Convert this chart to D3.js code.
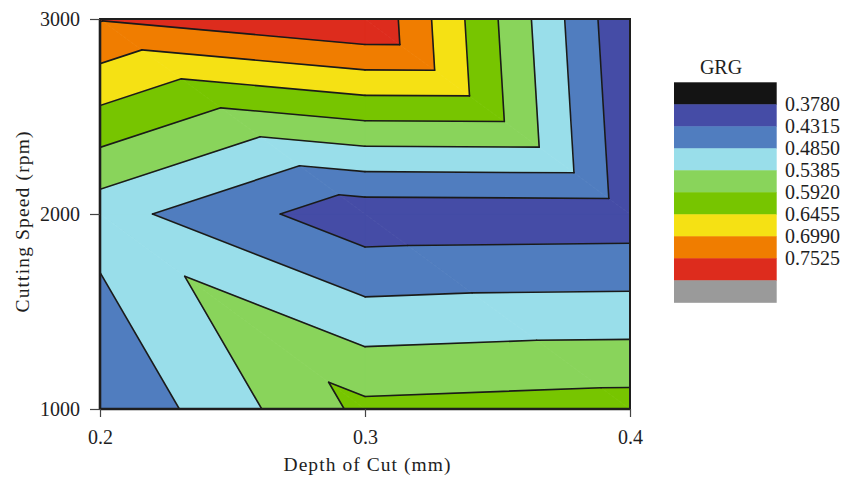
<!DOCTYPE html>
<html>
<head>
<meta charset="utf-8">
<script src="https://cdn.jsdelivr.net/npm/d3@7"></script>
<style>
  body { margin: 0; background: #fff; }
  text { font-family: "Liberation Serif", "Times New Roman", serif; fill: #1e1e1e; }
</style>
</head>
<body>
<svg id="chart" width="845" height="480"></svg>
<script>
// Measured grey relational grade (GRG) at each depth of cut / cutting speed
const depthOfCut = [0.2, 0.3, 0.4];
const cuttingSpeed = [1000, 2000, 3000];
const grgAt1000 = [0.4335, 0.6055, 0.616];
const grgAt2000 = [0.507, 0.396, 0.399];
const grgAt3000 = [0.756, 0.806, 0.380];

// Contour levels and the colour of each band between them (low to high)
const levels = [0.3780, 0.4315, 0.4850, 0.5385, 0.5920, 0.6455, 0.6990, 0.7525];
const levelLabels = ["0.3780", "0.4315", "0.4850", "0.5385", "0.5920", "0.6455", "0.6990", "0.7525"];
const bandColors = ["#141414", "#454ca6", "#507dbf", "#99deea", "#89d45b", "#77c500", "#f5e114", "#f07d00", "#dd2c1d"];
const extraColor = "#9a9a9a";

const xTicks = [0.2, 0.3, 0.4];
const yTicks = [1000, 2000, 3000];

const plot = { left: 100, right: 630, top: 19, bottom: 409 };
const svg = d3.select("#chart");

const x = d3.scaleLinear().domain([0.2, 0.4]).range([plot.left, plot.right]);
const y = d3.scaleLinear().domain([1000, 3000]).range([plot.bottom, plot.top]);

const grid = [grgAt1000, grgAt2000, grgAt3000];
const node = (i, j) => ({ x: depthOfCut[i], y: cuttingSpeed[j], v: grid[j][i] });

// Split each grid cell into two triangles along the top-left / bottom-right diagonal
const triangles = [];
for (let j = 0; j < cuttingSpeed.length - 1; j++) {
  for (let i = 0; i < depthOfCut.length - 1; i++) {
    const bl = node(i, j), br = node(i + 1, j), tl = node(i, j + 1), tr = node(i + 1, j + 1);
    triangles.push([tl, tr, br], [tl, bl, br]);
  }
}

const lerp = (a, b, level) => {
  const t = (level - a.v) / (b.v - a.v);
  return { x: a.x + t * (b.x - a.x), y: a.y + t * (b.y - a.y), v: level };
};

// Keep the part of a polygon on one side of a level (values vary linearly)
function clip(poly, level, above) {
  const inside = p => above ? p.v >= level : p.v <= level;
  const out = [];
  for (let k = 0; k < poly.length; k++) {
    const a = poly[k], b = poly[(k + 1) % poly.length];
    const ia = inside(a), ib = inside(b);
    if (ia) out.push(a);
    if (ia !== ib) out.push(lerp(a, b, level));
  }
  return out;
}

const defs = svg.append("defs");
defs.append("clipPath").attr("id", "plot-clip")
  .append("rect")
  .attr("x", plot.left).attr("y", plot.top)
  .attr("width", plot.right - plot.left).attr("height", plot.bottom - plot.top);

const line = d3.line().x(d => x(d.x)).y(d => y(d.y));
const area = svg.append("g").attr("clip-path", "url(#plot-clip)");

// Filled bands
const bands = [];
triangles.forEach(tri => {
  bandColors.forEach((color, b) => {
    let poly = tri.slice();
    if (b > 0) poly = clip(poly, levels[b - 1], true);
    if (poly.length && b < levels.length) poly = clip(poly, levels[b], false);
    if (poly.length >= 3) bands.push({ poly, color });
  });
});
area.selectAll("path.band")
  .data(bands)
  .join("path")
  .attr("class", "band")
  .attr("d", d => line(d.poly) + "Z")
  .attr("fill", d => d.color)
  .attr("stroke", d => d.color)
  .attr("stroke-width", 0.8)
  .attr("stroke-linejoin", "round");

// Contour lines at each level
const segments = [];
triangles.forEach(tri => {
  levels.forEach(level => {
    const pts = [];
    for (let k = 0; k < 3; k++) {
      const a = tri[k], b = tri[(k + 1) % 3];
      if ((a.v - level) * (b.v - level) < 0) pts.push(lerp(a, b, level));
    }
    if (pts.length === 2) segments.push(pts);
  });
});
area.selectAll("path.contour")
  .data(segments)
  .join("path")
  .attr("class", "contour")
  .attr("d", line)
  .attr("fill", "none")
  .attr("stroke", "#1a1a1a")
  .attr("stroke-width", 1.6)
  .attr("stroke-linecap", "round");

// Frame
svg.append("rect")
  .attr("x", plot.left).attr("y", plot.top)
  .attr("width", plot.right - plot.left).attr("height", plot.bottom - plot.top)
  .attr("fill", "none").attr("stroke", "#1e1e1e").attr("stroke-width", 2);

// Axes
const xAxis = svg.append("g")
  .attr("transform", `translate(0,${plot.bottom})`)
  .call(d3.axisBottom(x).tickValues(xTicks).tickFormat(d3.format(".1f")).tickSize(8).tickPadding(13));
const yAxis = svg.append("g")
  .attr("transform", `translate(${plot.left},0)`)
  .call(d3.axisLeft(y).tickValues(yTicks).tickFormat(d3.format("d")).tickSize(10).tickPadding(10));

[xAxis, yAxis].forEach(g => {
  g.select(".domain").attr("stroke", "#1e1e1e").attr("stroke-width", 2.6);
  g.selectAll(".tick line").attr("stroke", "#444").attr("stroke-width", 1.2);
  g.selectAll(".tick text").attr("font-size", 20).attr("fill", "#1e1e1e")
    .style("font-family", '"Liberation Serif", "Times New Roman", serif');
});
xAxis.select(".domain").attr("d", `M${plot.left},0H${plot.right}`);
yAxis.select(".domain").attr("d", `M0,${plot.top}V${plot.bottom}`);

// Axis titles
svg.append("text")
  .attr("x", 367).attr("y", 471)
  .attr("text-anchor", "middle")
  .attr("font-size", 19.5)
  .attr("textLength", 167).attr("lengthAdjust", "spacing")
  .text("Depth of Cut (mm)");

svg.append("text")
  .attr("transform", "translate(29,222) rotate(-90)")
  .attr("text-anchor", "middle")
  .attr("font-size", 19.5)
  .attr("textLength", 181).attr("lengthAdjust", "spacing")
  .text("Cutting Speed (rpm)");

// Legend
const legend = svg.append("g");
const boxH = 22, boxTop = 82.3, boxX = 674, boxW = 102.7;
const legendColors = bandColors.concat([extraColor]);

legend.append("text")
  .attr("x", 721).attr("y", 74)
  .attr("text-anchor", "middle")
  .attr("font-size", 20)
  .text("GRG");

legend.selectAll("rect")
  .data(legendColors)
  .join("rect")
  .attr("x", boxX)
  .attr("y", (d, i) => boxTop + i * boxH)
  .attr("width", boxW)
  .attr("height", boxH + 0.5)
  .attr("fill", d => d);

legend.selectAll("text.lvl")
  .data(levelLabels)
  .join("text")
  .attr("class", "lvl")
  .attr("x", 785)
  .attr("y", (d, i) => boxTop + (i + 1) * boxH)
  .attr("dy", "0.35em")
  .attr("font-size", 20)
  .text(d => d);
</script>
</body>
</html>
